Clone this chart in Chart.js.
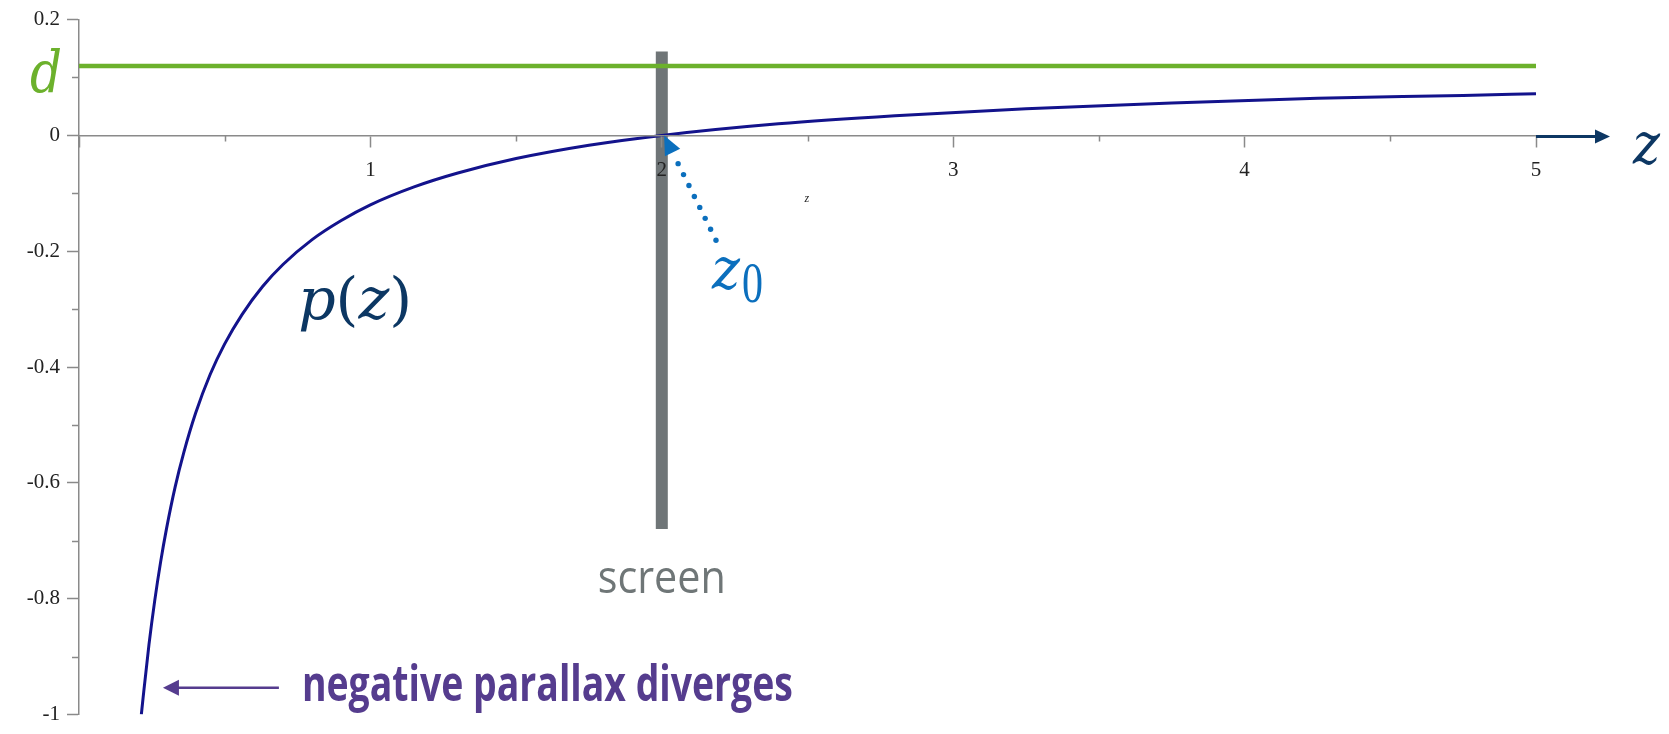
<!DOCTYPE html>
<html><head><meta charset="utf-8">
<script src="https://cdn.jsdelivr.net/npm/chart.js@4.4.0/dist/chart.umd.min.js"></script>
<style>html,body{margin:0;padding:0;background:#fff;overflow:hidden}canvas{display:block}</style>
</head><body>
<canvas id="c" width="1669" height="734"></canvas>
<script>
// ---- data ----
const zValues = [0.214, 0.22, 0.24, 0.26, 0.28, 0.30, 0.33, 0.36, 0.40, 0.45, 0.50, 0.56, 0.63, 0.70, 0.80, 0.90, 1.00, 1.15, 1.30, 1.50, 1.75, 2.00, 2.40, 2.80, 3.25, 3.75, 4.25, 4.75, 5.00];
const pValues = [-1.000, -0.971, -0.880, -0.803, -0.737, -0.680, -0.607, -0.547, -0.480, -0.413, -0.360, -0.309, -0.261, -0.223, -0.180, -0.147, -0.120, -0.089, -0.065, -0.040, -0.017, 0.000, 0.020, 0.034, 0.046, 0.056, 0.064, 0.069, 0.072];
const dValue = 0.12;
const dRange = [0, 5];
const screenZ = 2;
const screenExtent = [0.145, -0.68];
const xTickValues = [0, 1, 2, 3, 4, 5];
const xTickLabels = ['', '1', '2', '3', '4', '5'];
const yTickValues = [-1, -0.8, -0.6, -0.4, -0.2, 0, 0.2];
const yTickLabels = ['-1', '-0.8', '-0.6', '-0.4', '-0.2', '0', '0.2'];
const xMinorTicks = [0.5, 1.5, 2.5, 3.5, 4.5];
const yMinorTicks = [-0.9, -0.7, -0.5, -0.3, -0.1, 0.1];

const AXIS_GRAY = '#8a8a8a';
const TICK_FONT = {family: 'Liberation Serif', size: 21};

function labelFor(values, labels, v) {
  const i = values.findIndex(t => Math.abs(t - v) < 1e-6);
  return i >= 0 ? labels[i] : '';
}

// draw runs of text [text, font] in sequence, scaled to a target width
function fitRuns(ctx, runs, color, left, baseline, width) {
  ctx.save();
  ctx.fillStyle = color;
  ctx.textAlign = 'left';
  ctx.textBaseline = 'alphabetic';
  let total = 0;
  const ws = runs.map(([t, f]) => { ctx.font = f; const w = ctx.measureText(t).width; total += w; return w; });
  ctx.translate(left, baseline);
  ctx.scale(width / total, 1);
  let x = 0;
  runs.forEach(([t, f], i) => { ctx.font = f; ctx.fillText(t, x, 0); x += ws[i]; });
  ctx.restore();
}
function fitText(ctx, text, font, color, left, baseline, width) {
  fitRuns(ctx, [[text, font]], color, left, baseline, width);
}

function arrowHead(ctx, tipX, tipY, ux, uy, len, half, color) {
  const bx = tipX - ux * len, by = tipY - uy * len;
  ctx.beginPath();
  ctx.moveTo(tipX, tipY);
  ctx.lineTo(bx - uy * half, by + ux * half);
  ctx.lineTo(bx + uy * half, by - ux * half);
  ctx.closePath();
  ctx.fillStyle = color;
  ctx.fill();
}

const annotations = {
  id: 'annotations',
  afterDraw(chart) {
    const ctx = chart.ctx;
    const xs = chart.scales.x, ys = chart.scales.y;
    const X = v => xs.getPixelForValue(v), Y = v => ys.getPixelForValue(v);
    const area = chart.chartArea;
    const y0 = Y(0);

    // minor ticks
    ctx.save();
    ctx.strokeStyle = AXIS_GRAY;
    ctx.lineWidth = 1.5;
    ctx.beginPath();
    xMinorTicks.forEach(v => { const px = Math.round(X(v)) + 0.5; ctx.moveTo(px, y0); ctx.lineTo(px, y0 + 6); });
    yMinorTicks.forEach(v => { const py = Math.round(Y(v)) + 0.5; ctx.moveTo(area.left - 7, py); ctx.lineTo(area.left, py); });
    ctx.stroke();
    ctx.restore();

    // axis arrow beyond z = 5
    const ax0 = X(5), axY = y0 + 1;
    ctx.save();
    ctx.strokeStyle = '#0d3763';
    ctx.lineWidth = 3;
    ctx.beginPath();
    ctx.moveTo(ax0, axY);
    ctx.lineTo(ax0 + 62, axY);
    ctx.stroke();
    arrowHead(ctx, ax0 + 74, axY, 1, 0, 15, 7, '#0d3763');
    ctx.restore();
    fitText(ctx, 'z', 'italic 58px "DejaVu Serif"', '#0d3763', ax0 + 97, y0 + 29, 27);

    // d label
    fitText(ctx, 'd', 'italic 58px "DejaVu Serif"', '#6cb12c', area.left - 49, Y(dValue) + 26, 32);

    // p(z) label
    fitRuns(ctx, [['p', 'italic 58px "DejaVu Serif"'], ['(', '58px "DejaVu Serif"'], ['z', 'italic 58px "DejaVu Serif"'], [')', '58px "DejaVu Serif"']],
      '#0c3763', X(0.752), Y(-0.317), 114);

    // z0 label
    fitText(ctx, 'z', 'italic 58px "DejaVu Serif"', '#0b6fbd', X(2.172), Y(-0.266), 28);
    fitText(ctx, '0', '56px "Liberation Serif"', '#0b6fbd', X(2.275), Y(-0.288), 21);

    // dotted arrow to z0
    const sx = X(2.186), sy = Y(-0.181), tx = X(2.008), ty = Y(0);
    const dx = tx - sx, dy = ty - sy, L = Math.hypot(dx, dy), ux = dx / L, uy = dy / L;
    ctx.save();
    ctx.fillStyle = '#0b6fbd';
    for (let k = 0; k < 8; k++) {
      ctx.beginPath();
      ctx.arc(sx + ux * 12.2 * k, sy + uy * 12.2 * k, 2.7, 0, Math.PI * 2);
      ctx.fill();
    }
    arrowHead(ctx, tx, ty, ux, uy, 19, 8.5, '#0b6fbd');
    ctx.restore();

    // small axis title
    ctx.save();
    ctx.font = 'italic 12px "Liberation Serif"';
    ctx.fillStyle = '#222';
    ctx.textAlign = 'center';
    ctx.textBaseline = 'middle';
    ctx.fillText('z', X(2.498), Y(-0.109));
    ctx.restore();

    // screen label
    fitText(ctx, 'screen', '46px "Open Sans"', '#6f7677', X(screenZ) - 64, Y(-0.790), 128);

    // negative parallax note
    const ay = Y(-0.954);
    ctx.save();
    ctx.strokeStyle = '#553c8e';
    ctx.lineWidth = 2.5;
    ctx.beginPath();
    ctx.moveTo(X(0.686), ay);
    ctx.lineTo(X(0.288) + 14, ay);
    ctx.stroke();
    arrowHead(ctx, X(0.288), ay, -1, 0, 16, 8, '#553c8e');
    ctx.restore();
    fitText(ctx, 'negative parallax diverges', 'bold 50px "Liberation Sans Narrow", "Open Sans"', '#553c8e', X(0.765), Y(-0.976), 491);
  }
};

new Chart(document.getElementById('c'), {
  type: 'scatter',
  data: {
    datasets: [
      {
        label: 'p(z)',
        data: zValues.map((z, i) => ({x: z, y: pValues[i]})),
        showLine: true, borderColor: '#13138c', borderWidth: 3,
        pointRadius: 0, cubicInterpolationMode: 'monotone', fill: false
      },
      {
        label: 'd',
        data: dRange.map(x => ({x, y: dValue})),
        showLine: true, borderColor: '#6cb12c', borderWidth: 4.5,
        pointRadius: 0, borderCapStyle: 'butt'
      },
      {
        label: 'screen',
        data: screenExtent.map(y => ({x: screenZ, y})),
        showLine: true, borderColor: '#6f7577', borderWidth: 12,
        pointRadius: 0, borderCapStyle: 'butt'
      }
    ]
  },
  options: {
    responsive: false,
    animation: false,
    devicePixelRatio: 1,
    layout: {padding: {left: 0, top: 19, right: 133, bottom: 11}},
    plugins: {legend: {display: false}, tooltip: {enabled: false}},
    scales: {
      x: {
        type: 'linear', min: 0, max: 5, position: {y: 0},
        ticks: {
          z: 1, stepSize: 1, autoSkip: false, maxRotation: 0, padding: 11,
          color: '#222', font: TICK_FONT,
          callback: v => labelFor(xTickValues, xTickLabels, v)
        },
        grid: {z: 1, drawOnChartArea: false, drawTicks: true, tickLength: 11, tickColor: AXIS_GRAY, tickWidth: 1.5},
        border: {z: 1, display: true, color: AXIS_GRAY, width: 1.5}
      },
      y: {
        type: 'linear', min: -1, max: 0.2, position: 'left',
        afterFit: s => { s.width = 79; },
        ticks: {
          stepSize: 0.2, autoSkip: false, padding: 7,
          color: '#222', font: TICK_FONT,
          callback: v => labelFor(yTickValues, yTickLabels, v)
        },
        grid: {drawOnChartArea: false, drawTicks: true, tickLength: 12, tickColor: AXIS_GRAY, tickWidth: 1.5},
        border: {display: true, color: AXIS_GRAY, width: 1.5}
      }
    }
  },
  plugins: [annotations]
});
</script>
</body></html>
